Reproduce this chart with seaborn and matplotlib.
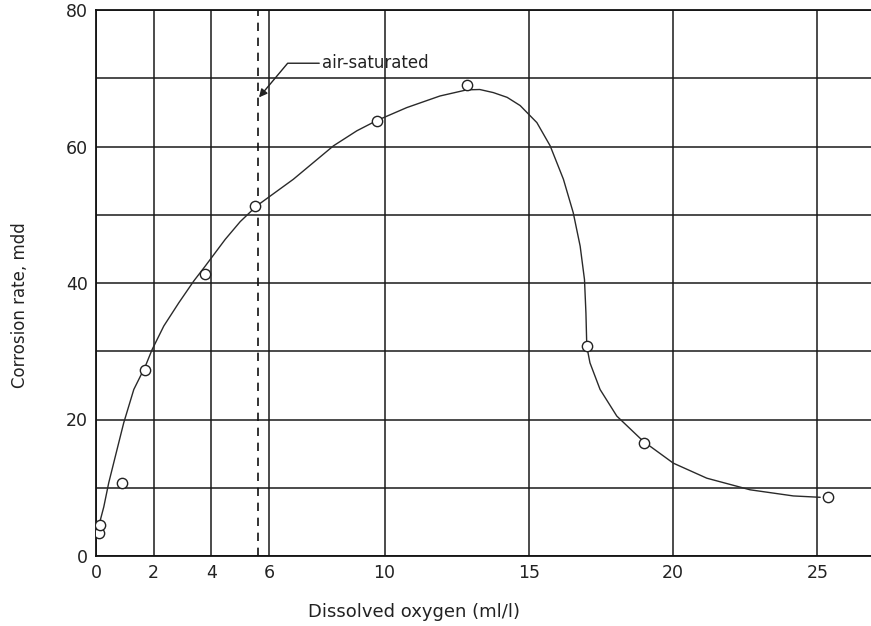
import pandas as pd
import seaborn as sns
import matplotlib
matplotlib.use("Agg")
import matplotlib.pyplot as plt

# measured points (dissolved oxygen ml/l, corrosion rate mdd)
oxygen = [0.09, 0.15, 0.9, 1.71, 3.79, 5.52, 9.73, 12.87, 17.0, 19.0, 25.38]
rate = [3.3, 4.6, 10.7, 27.3, 41.3, 51.3, 63.7, 69.0, 30.7, 16.6, 8.7]

# hand-drawn trend curve
curve_x = [0.09, 0.27, 0.44, 0.67, 0.96, 1.31, 1.71, 1.94, 2.35, 2.87, 3.39,
           3.79, 4.48, 5.0, 5.57, 6.84, 8.23, 9.04, 9.73, 10.77, 11.92, 12.85,
           13.3, 13.77, 14.25, 14.70, 15.28, 15.74, 16.20, 16.54, 16.78, 16.93,
           16.98, 17.01, 17.12, 17.47, 18.05, 18.97, 20.01, 21.17, 22.67,
           24.17, 25.1]
curve_y = [4.3, 7.2, 10.7, 14.6, 19.5, 24.4, 27.8, 30.2, 33.7, 37.1, 40.3,
           42.5, 46.4, 49.0, 51.3, 55.2, 60.1, 62.3, 63.8, 65.7, 67.4, 68.3,
           68.35, 67.9, 67.2, 66.0, 63.5, 60.1, 55.2, 50.3, 45.4, 40.5,
           35.6, 30.7, 28.3, 24.4, 20.5, 16.8, 13.6, 11.4, 9.7,
           8.8, 8.6]

x_ticks = [0, 2, 4, 6, 10, 15, 20, 25]
y_ticks = [0, 20, 40, 60, 80]
y_grid = [10, 30, 50, 70]
air_sat = 5.6

sns.set_style("white")
plt.rcParams["font.family"] = ["DejaVu Sans"]

fig = plt.figure(figsize=(8.71, 6.26), dpi=100)
ax = fig.add_axes([96 / 871, 70 / 626, 1 - 96 / 871, 546 / 626])

df_curve = pd.DataFrame({"x": curve_x, "y": curve_y})
df_pts = pd.DataFrame({"x": oxygen, "y": rate})

sns.lineplot(data=df_curve, x="x", y="y", ax=ax, color="#2a2a2a",
             linewidth=1.0, sort=False, estimator=None)
sns.scatterplot(data=df_pts, x="x", y="y", ax=ax, marker="o", s=55,
                facecolor="white", edgecolor="#222222", linewidth=1.0, zorder=5)

ax.set_xlim(0, 26.86)
ax.set_ylim(0, 80)
ax.set_xticks(x_ticks)
ax.set_yticks(y_ticks)
ax.set_yticks(y_grid, minor=True)
ax.grid(True, which="both", axis="both", color="#1a1a1a", linewidth=1.1)
ax.set_axisbelow(True)
ax.tick_params(axis="both", which="both", length=0, labelsize=12.5,
               colors="#222222", pad=6)

ax.axvline(air_sat, color="#111111", linestyle=(0, (5, 4)), linewidth=1.2, zorder=3)
ax.annotate("air-saturated", xy=(air_sat + 0.05, 67.2), xytext=(7.85, 72.2),
            fontsize=12, color="#222222", va="center", ha="left",
            arrowprops=dict(arrowstyle="-|>", color="#222222", lw=1.0,
                            connectionstyle="angle,angleA=0,angleB=50,rad=0",
                            shrinkA=0, shrinkB=0, mutation_scale=12))

ax.set_xlabel("Dissolved oxygen (ml/l)", fontsize=13, color="#222222")
ax.set_ylabel("Corrosion rate, mdd", fontsize=12, color="#222222")
ax.xaxis.set_label_coords(0.41, -0.103)
ax.xaxis.label.set_va("center")
ax.yaxis.set_label_coords(-0.098, 0.46)
ax.yaxis.label.set_va("center")

ax.spines["right"].set_visible(False)
for side in ["left", "bottom", "top"]:
    ax.spines[side].set_color("#111111")
    ax.spines[side].set_linewidth(1.3)

fig.savefig("out.png", dpi=100, facecolor="white")
